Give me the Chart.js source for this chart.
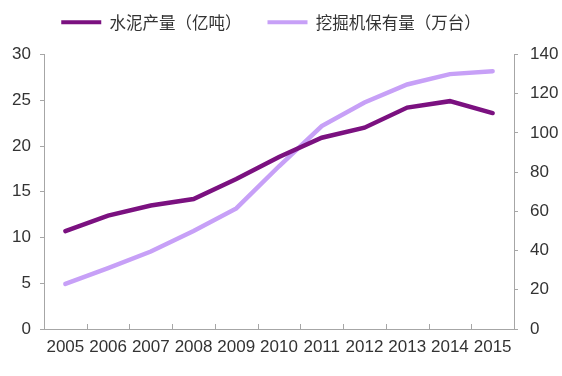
<!DOCTYPE html>
<html><head><meta charset="utf-8">
<script src="https://cdn.jsdelivr.net/npm/chart.js@4/dist/chart.umd.min.js"></script>
<style>html,body{margin:0;padding:0;background:#fff}#w{width:562px;height:376px}</style>
</head><body><div id="w"><canvas id="c"></canvas></div>
<script>
const categories = ["2005","2006","2007","2008","2009","2010","2011","2012","2013","2014","2015"];
const cementOutput = [10.7, 12.4, 13.5, 14.2, 16.4, 18.8, 20.9, 22.0, 24.2, 24.9, 23.6];
const excavatorStock = [23, 31, 39.5, 50, 61.5, 83, 103.5, 115.5, 124.7, 130, 131.5];
const seriesNames = ["水泥产量（亿吨）", "挖掘机保有量（万台）"];
const leftTicks = [0, 30, 5];
const rightTicks = [0, 140, 20];

const DARK = '#7B1180', LIGHT = '#C7A0F7', AXIS = '#A6A6A6', TXT = '#333333';
const tickFont = {family: "'Liberation Sans', Arial, sans-serif", size: 17};

const innerTicks = {
  id: 'innerTicks',
  afterLayout(chart) {
    const lg = chart.legend;
    if (lg) { lg.top -= 14; lg.bottom -= 14; lg.right -= 20; }
  },
  afterDraw(chart) {
    const x = chart.scales.x, ctx = chart.ctx, bottom = chart.chartArea.bottom;
    ctx.save(); ctx.strokeStyle = AXIS; ctx.lineWidth = 1;
    for (let i = 0; i < categories.length - 1; i++) {
      const px = Math.round((x.getPixelForValue(i) + x.getPixelForValue(i + 1)) / 2) + 0.5;
      ctx.beginPath(); ctx.moveTo(px, bottom); ctx.lineTo(px, bottom - 5); ctx.stroke();
    }
    ctx.restore();
  }
};

new Chart(document.getElementById('c'), {
  type: 'line',
  data: {
    labels: categories,
    datasets: [
      {label: seriesNames[0], data: cementOutput, borderColor: DARK, backgroundColor: DARK, borderWidth: 4.5, pointRadius: 0, tension: 0, yAxisID: 'y', borderCapStyle: 'round'},
      {label: seriesNames[1], data: excavatorStock, borderColor: LIGHT, backgroundColor: LIGHT, borderWidth: 4.5, pointRadius: 0, tension: 0, yAxisID: 'y1', borderCapStyle: 'round'}
    ]
  },
  options: {
    responsive: true, maintainAspectRatio: false, animation: false,
    layout: {padding: {top: 2, left: 0, right: 0, bottom: 0}},
    plugins: {
      tooltip: {enabled: false},
      legend: {
        position: 'top',
        labels: {
          color: TXT, boxWidth: 40, boxHeight: 4, padding: 26,
          font: {family: "'Noto Sans CJK SC', sans-serif", size: 16.5},
          generateLabels(chart) {
            return Chart.defaults.plugins.legend.labels.generateLabels(chart).map(l => Object.assign(l, {lineWidth: 0}));
          }
        }
      }
    },
    scales: {
      x: {
        offset: true,
        grid: {offset: true, drawOnChartArea: false, drawTicks: false, color: AXIS},
        border: {color: AXIS, width: 1},
        ticks: {color: TXT, font: tickFont, padding: 8, maxRotation: 0, autoSkip: false},
        afterFit(s) { s.height = 47; }
      },
      y: {
        position: 'left', min: leftTicks[0], max: leftTicks[1],
        grid: {drawOnChartArea: false, tickLength: 4, color: AXIS},
        border: {color: AXIS},
        ticks: {stepSize: leftTicks[2], color: TXT, font: tickFont, padding: 9},
        afterFit(s) { s.width = 44; }
      },
      y1: {
        position: 'right', min: rightTicks[0], max: rightTicks[1],
        grid: {drawOnChartArea: false, tickLength: 4, color: AXIS},
        border: {color: AXIS},
        ticks: {stepSize: rightTicks[2], color: TXT, font: tickFont, padding: 12},
        afterFit(s) { s.width = 48; }
      }
    }
  },
  plugins: [innerTicks]
});
</script></body></html>
